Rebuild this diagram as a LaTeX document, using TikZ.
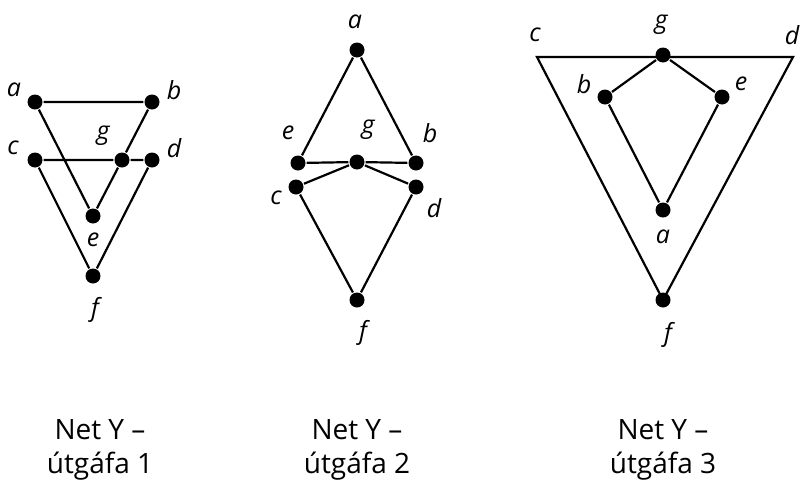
\documentclass[tikz,border=0pt]{standalone}
\usepackage{fontspec}
\setmainfont{Open Sans}
\begin{document}
\begin{tikzpicture}[x=1pt,y=-1pt,
  dot/.style={circle,fill=black,inner sep=0pt,minimum size=15pt},
  lbl/.style={font=\fontsize{25}{25}\selectfont\itshape},
  captxt/.style={font=\fontsize{28}{34}\selectfont,align=center},
  every path/.style={line width=2.2pt}]
\useasboundingbox (0,0) rectangle (804,501);
% version 1
\node[dot] (a1) at (35,102) {}; \node[lbl] at (14,90) {a};
\node[dot] (b1) at (152,102) {}; \node[lbl] at (174,90) {b};
\node[dot] (c1) at (35,160) {}; \node[lbl] at (13,148) {c};
\node[dot] (g1) at (122,160) {}; \node[lbl] at (103,136) {g};
\node[dot] (d1) at (152,160) {}; \node[lbl] at (174,148) {d};
\node[dot] (e1) at (93,216) {}; \node[lbl] at (93,240) {e};
\node[dot] (f1) at (93,276) {}; \node[lbl] at (95,310) {f};
\draw (a1)--(b1) (a1)--(e1) (b1)--(g1)--(e1) (c1)--(g1)--(d1) (c1)--(f1)--(d1);
% version 2
\node[dot] (a2) at (357,50) {}; \node[lbl] at (355,22) {a};
\node[dot] (e2) at (298,163) {}; \node[lbl] at (288,133) {e};
\node[dot] (g2) at (357,162) {}; \node[lbl] at (368,130) {g};
\node[dot] (b2) at (416,163) {}; \node[lbl] at (430,133) {b};
\node[dot] (c2) at (296,187) {}; \node[lbl] at (276,198) {c};
\node[dot] (d2) at (416,187) {}; \node[lbl] at (434,208) {d};
\node[dot] (f2) at (357,300) {}; \node[lbl] at (363,333) {f};
\draw (a2)--(e2)--(g2)--(b2)--(a2) (c2)--(g2)--(d2) (c2)--(f2)--(d2);
% version 3
\coordinate (c3) at (537,57); \node[lbl] at (535,35) {c};
\coordinate (d3) at (793,57); \node[lbl] at (792,35) {d};
\node[dot] (g3) at (663,55) {}; \node[lbl] at (661,25) {g};
\node[dot] (b3) at (605,97) {}; \node[lbl] at (584,84) {b};
\node[dot] (e3) at (722,97) {}; \node[lbl] at (741,84) {e};
\node[dot] (a3) at (663,210) {}; \node[lbl] at (663,237) {a};
\node[dot] (f3) at (663,300) {}; \node[lbl] at (668,335) {f};
\draw[line join=miter] (c3)--(d3)--(f3.center)--cycle;
\draw (g3)--(b3)--(a3)--(e3)--(g3);
% captions
\node[captxt] at (100,450) {Net Y –\\útgáfa 1};
\node[captxt] at (357,450) {Net Y –\\útgáfa 2};
\node[captxt] at (663,450) {Net Y –\\útgáfa 3};
\end{tikzpicture}
\end{document}
